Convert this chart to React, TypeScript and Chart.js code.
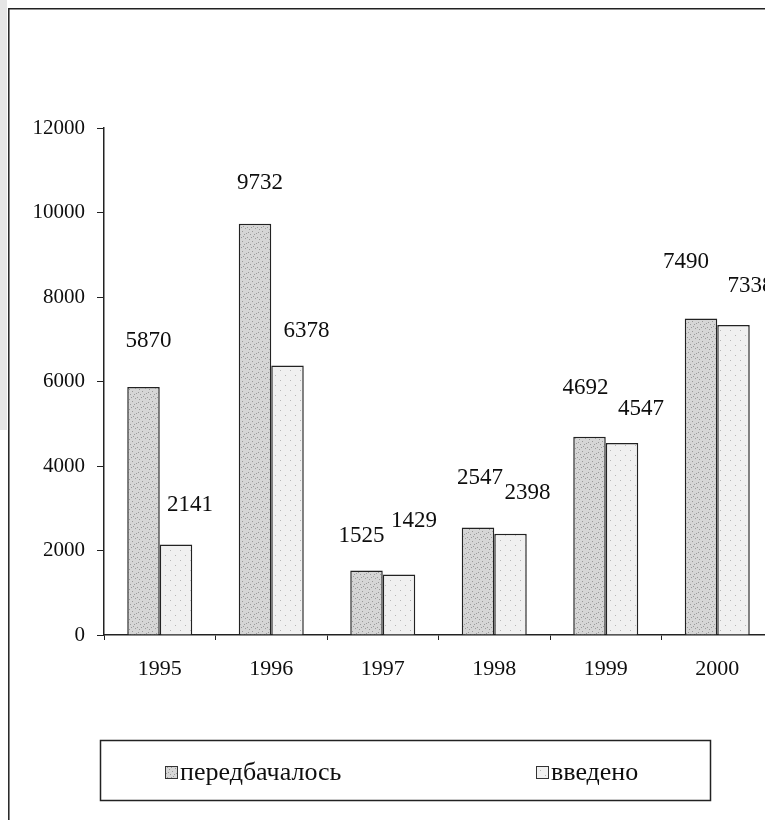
import React, { useEffect, useRef } from "react";
import { Chart, registerables } from "chart.js";

Chart.register(...registerables);

const years = ["1995", "1996", "1997", "1998", "1999", "2000"];
const planned = [5870, 9732, 1525, 2547, 4692, 7490];
const built = [2141, 6378, 1429, 2398, 4547, 7338];
const seriesNames = ["передбачалось", "введено"];
const yMin = 0;
const yMax = 12000;
const yStep = 2000;

// styling: label shifts (dx, dy) relative to the top-centre of each bar
const plannedLabelShift: [number, number][] = [[5, -46], [5, -41], [-5, -35], [2, -49], [-4, -49], [-15, -57]];
const builtLabelShift: [number, number][] = [[14, -40], [19, -35], [15, -54], [17, -41], [19, -34], [17, -39]];

const FONT = '"Liberation Serif", "Times New Roman", serif';
const INK = "#0e0e0e";

function makePattern(base: string, dot: string, dots: [number, number][]) {
  const c = document.createElement("canvas");
  c.width = 10;
  c.height = 10;
  const g = c.getContext("2d")!;
  g.fillStyle = base;
  g.fillRect(0, 0, 10, 10);
  g.fillStyle = dot;
  dots.forEach(([x, y]) => g.fillRect(x, y, 1, 1));
  return g.createPattern(c, "repeat") as CanvasPattern;
}

export default function App() {
  const ref = useRef<HTMLCanvasElement>(null);

  useEffect(() => {
    const canvas = ref.current!;
    const darkFill = makePattern("#d6d6d6", "#9a9a9a", [
      [1, 1], [4, 3], [7, 0], [2, 6], [8, 5], [5, 8], [0, 4], [6, 6], [9, 9], [3, 9],
    ]);
    const lightFill = makePattern("#f0f0f0", "#b5b5b5", [[2, 2], [7, 7]]);
    const fills = [darkFill, lightFill];
    const shifts = [plannedLabelShift, builtLabelShift];

    const framePlugin = {
      id: "frame",
      beforeDraw(chart: any) {
        const ctx = chart.ctx;
        ctx.save();
        ctx.fillStyle = "#ffffff";
        ctx.fillRect(0, 0, chart.width, chart.height);
        ctx.strokeStyle = "#222";
        ctx.lineWidth = 1.5;
        ctx.beginPath();
        ctx.moveTo(chart.width, 0.8);
        ctx.lineTo(0.8, 0.8);
        ctx.lineTo(0.8, chart.height);
        ctx.stroke();
        ctx.restore();
      },
    };

    const labelPlugin = {
      id: "barLabels",
      afterDatasetsDraw(chart: any) {
        const ctx = chart.ctx;
        ctx.save();
        ctx.font = `23px ${FONT}`;
        ctx.fillStyle = INK;
        ctx.textAlign = "center";
        ctx.textBaseline = "middle";
        chart.data.datasets.forEach((ds: any, di: number) => {
          const meta = chart.getDatasetMeta(di);
          meta.data.forEach((el: any, i: number) => {
            const [dx, dy] = shifts[di][i];
            ctx.fillText(String(ds.data[i]), el.x + dx, el.y + dy);
          });
        });
        ctx.restore();
      },
    };

    const legendPlugin = {
      id: "boxLegend",
      afterDraw(chart: any) {
        const ctx = chart.ctx;
        const left = 92;
        const top = 732;
        const w = 610;
        const h = 60;
        ctx.save();
        ctx.strokeStyle = "#222";
        ctx.lineWidth = 1.5;
        ctx.strokeRect(left + 0.5, top + 0.5, w, h);
        const itemX = [157, 528];
        const cy = top + h / 2 + 2;
        ctx.font = `26px ${FONT}`;
        ctx.textBaseline = "middle";
        ctx.textAlign = "left";
        chart.data.datasets.forEach((ds: any, i: number) => {
          const x = itemX[i];
          ctx.fillStyle = ds.backgroundColor;
          ctx.fillRect(x, cy - 6, 12, 12);
          ctx.lineWidth = 1;
          ctx.strokeStyle = "#333";
          ctx.strokeRect(x + 0.5, cy - 5.5, 12, 12);
          ctx.fillStyle = INK;
          ctx.fillText(ds.label, x + 15, cy + 1);
        });
        ctx.restore();
      },
    };

    const chart = new Chart(canvas, {
      type: "bar",
      data: {
        labels: years,
        datasets: [
          {
            label: seriesNames[0],
            data: planned,
            backgroundColor: fills[0] as any,
            borderColor: "#222",
            borderWidth: 1.5,
            barPercentage: 1,
            categoryPercentage: 0.583,
          },
          {
            label: seriesNames[1],
            data: built,
            backgroundColor: fills[1] as any,
            borderColor: "#222",
            borderWidth: 1.5,
            barPercentage: 1,
            categoryPercentage: 0.583,
          },
        ],
      },
      options: {
        responsive: false,
        animation: false,
        events: [],
        layout: { padding: { top: 120, left: 0, right: 0, bottom: 142 } },
        plugins: {
          legend: { display: false },
          tooltip: { enabled: false },
          title: { display: false },
        },
        scales: {
          x: {
            offset: true,
            grid: {
              display: true,
              drawOnChartArea: false,
              drawTicks: true,
              tickLength: 5,
              color: "#222",
              offset: true,
            },
            border: { display: true, color: "#222", width: 1.5 },
            ticks: {
              color: INK,
              font: { family: FONT, size: 22 },
              padding: 16,
              maxRotation: 0,
            },
            afterFit: (s: any) => {
              s.height = 43;
            },
          },
          y: {
            min: yMin,
            max: yMax,
            ticks: {
              stepSize: yStep,
              color: INK,
              font: { family: FONT, size: 21 },
              padding: 12,
              callback: (v: any) => String(v),
            },
            grid: {
              display: true,
              drawOnChartArea: false,
              drawTicks: true,
              tickLength: 7,
              color: "#222",
            },
            border: { display: true, color: "#222", width: 1.5 },
            afterFit: (s: any) => {
              s.width = 96;
            },
          },
        },
      },
      plugins: [framePlugin, labelPlugin, legendPlugin],
    });

    return () => chart.destroy();
  }, []);

  return (
    <div style={{ position: "relative", width: 765, height: 812 }}>
      <div
        style={{
          position: "fixed",
          left: 0,
          top: 0,
          width: 7,
          height: 430,
          background: "#e6e6e6",
        }}
      />
      <canvas ref={ref} width={765} height={812} style={{ display: "block" }} />
    </div>
  );
}
